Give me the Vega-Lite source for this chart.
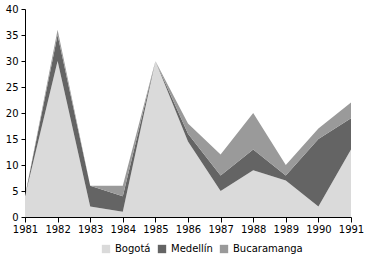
{
  "$schema": "https://vega.github.io/schema/vega-lite/v6.json",
  "autosize": "none",
  "width": 326,
  "height": 208,
  "padding": {"left": 25, "top": 9, "right": 17, "bottom": 40},
  "background": "white",
  "config": {
    "font": "DejaVu Sans",
    "view": {"stroke": null},
    "axis": {"labelFont": "DejaVu Sans", "labelFontSize": 10, "labelColor": "#000000", "domainColor": "#000000", "tickColor": "#000000", "grid": false, "title": null}
  },
  "data": {"values": [
    {"year": 1981, "city": "Bogotá", "o": 1, "v": 4},
    {"year": 1982, "city": "Bogotá", "o": 1, "v": 30},
    {"year": 1983, "city": "Bogotá", "o": 1, "v": 2},
    {"year": 1984, "city": "Bogotá", "o": 1, "v": 1},
    {"year": 1985, "city": "Bogotá", "o": 1, "v": 30},
    {"year": 1986, "city": "Bogotá", "o": 1, "v": 14.5},
    {"year": 1987, "city": "Bogotá", "o": 1, "v": 5},
    {"year": 1988, "city": "Bogotá", "o": 1, "v": 9},
    {"year": 1989, "city": "Bogotá", "o": 1, "v": 7},
    {"year": 1990, "city": "Bogotá", "o": 1, "v": 2},
    {"year": 1991, "city": "Bogotá", "o": 1, "v": 13},
    {"year": 1981, "city": "Medellín", "o": 2, "v": 0},
    {"year": 1982, "city": "Medellín", "o": 2, "v": 5},
    {"year": 1983, "city": "Medellín", "o": 2, "v": 4},
    {"year": 1984, "city": "Medellín", "o": 2, "v": 3},
    {"year": 1985, "city": "Medellín", "o": 2, "v": 0},
    {"year": 1986, "city": "Medellín", "o": 2, "v": 1.5},
    {"year": 1987, "city": "Medellín", "o": 2, "v": 3},
    {"year": 1988, "city": "Medellín", "o": 2, "v": 4},
    {"year": 1989, "city": "Medellín", "o": 2, "v": 1},
    {"year": 1990, "city": "Medellín", "o": 2, "v": 13},
    {"year": 1991, "city": "Medellín", "o": 2, "v": 6},
    {"year": 1981, "city": "Bucaramanga", "o": 3, "v": 0},
    {"year": 1982, "city": "Bucaramanga", "o": 3, "v": 1},
    {"year": 1983, "city": "Bucaramanga", "o": 3, "v": 0},
    {"year": 1984, "city": "Bucaramanga", "o": 3, "v": 2},
    {"year": 1985, "city": "Bucaramanga", "o": 3, "v": 0},
    {"year": 1986, "city": "Bucaramanga", "o": 3, "v": 2},
    {"year": 1987, "city": "Bucaramanga", "o": 3, "v": 4},
    {"year": 1988, "city": "Bucaramanga", "o": 3, "v": 7},
    {"year": 1989, "city": "Bucaramanga", "o": 3, "v": 2},
    {"year": 1990, "city": "Bucaramanga", "o": 3, "v": 2},
    {"year": 1991, "city": "Bucaramanga", "o": 3, "v": 3}
  ]},
  "mark": {"type": "area", "interpolate": "linear"},
  "encoding": {
    "x": {"field": "year", "type": "quantitative", "scale": {"domain": [1981, 1991], "nice": false, "zero": false},
          "axis": {"format": "d", "values": [1981,1982,1983,1984,1985,1986,1987,1988,1989,1990,1991], "tickSize": 5, "labelPadding": 2, "labelFlush": false}},
    "y": {"field": "v", "type": "quantitative", "stack": "zero", "scale": {"domain": [0, 40], "nice": false},
          "axis": {"values": [0,5,10,15,20,25,30,35,40], "tickSize": 4, "labelPadding": 3}},
    "order": {"field": "o", "type": "quantitative"},
    "color": {"field": "city", "type": "nominal",
              "scale": {"domain": ["Bogotá", "Medellín", "Bucaramanga"], "range": ["#dadada", "#646464", "#9a9a9a"]},
              "legend": {"title": null, "orient": "none", "direction": "horizontal", "legendX": 76, "legendY": 235, "symbolType": "square", "symbolSize": 70, "labelFontSize": 10, "labelFont": "DejaVu Sans", "labelColor": "#000000", "columnPadding": 6, "symbolOffset": 0, "labelOffset": 4, "symbolStrokeWidth": 0}}
  }
}
